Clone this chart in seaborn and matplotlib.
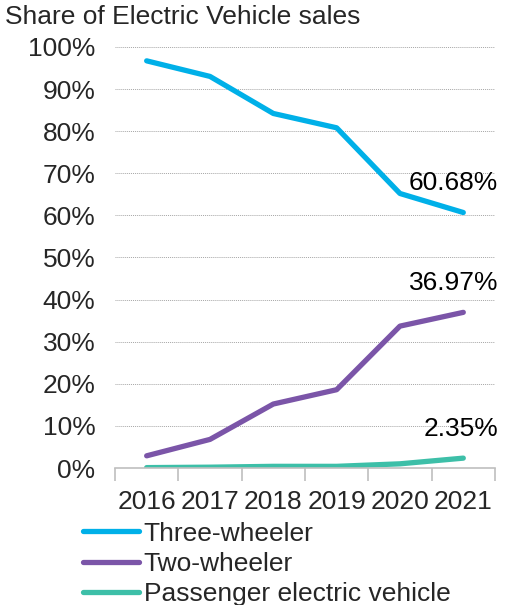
import pandas as pd
import seaborn as sns
import matplotlib.pyplot as plt
from matplotlib.ticker import FuncFormatter

years = ["2016", "2017", "2018", "2019", "2020", "2021"]
three_wheeler = [96.7, 93.0, 84.2, 80.8, 65.2, 60.68]
two_wheeler = [2.9, 6.8, 15.2, 18.6, 33.7, 36.97]
passenger = [0.1, 0.2, 0.4, 0.4, 1.0, 2.35]
series_names = ["Three-wheeler", "Two-wheeler", "Passenger electric vehicle"]
end_labels = ["60.68%", "36.97%", "2.35%"]

dane = pd.DataFrame({
    "Rok": years * 3,
    "Udział": three_wheeler + two_wheeler + passenger,
    "Typ": [series_names[0]] * 6 + [series_names[1]] * 6 + [series_names[2]] * 6,
})

sns.set_style("white")
plt.rcParams["font.family"] = ["Liberation Sans", "DejaVu Sans"]

kolory = ["#00B0E8", "#7B55A8", "#3DBFA8"]
rozmiar = 19

fig = plt.figure(figsize=(5.1, 6.05), dpi=100)
ax = fig.add_axes([0.2255, 0.2264, 0.745, 0.696])

sns.lineplot(data=dane, x="Rok", y="Udział", hue="Typ", palette=kolory,
             linewidth=3.8, ax=ax, sort=False, legend=True)

ax.set_ylim(0, 100)
ax.set_xlim(-0.5, 5.5)
ax.set_yticks(range(0, 101, 10))
ax.yaxis.set_major_formatter(FuncFormatter(lambda v, p: f"{int(v)}%"))
ax.yaxis.grid(True, linestyle=(0, (1, 1)), color="#A6A6A6", linewidth=0.7)
ax.set_axisbelow(True)

# krawedzie osi
for s in ["top", "right", "left"]:
    ax.spines[s].set_visible(False)
ax.spines["bottom"].set_color("#BFBFBF")
ax.spines["bottom"].set_linewidth(1.2)

ax.set_xticks(range(len(years)))
ax.set_xticklabels(years)
ax.tick_params(axis="x", length=0, labelsize=rozmiar, pad=16)
ax.tick_params(axis="y", length=0, labelsize=rozmiar, pad=14)
# kreski miedzy kategoriami
ax.set_xticks([i - 0.5 for i in range(len(years) + 1)], minor=True)
ax.tick_params(axis="x", which="minor", length=9, color="#BFBFBF", width=1.2,
               bottom=True)
ax.set_xlabel("")
ax.set_ylabel("")

# etykiety koncowe
wartosci = [three_wheeler[-1], two_wheeler[-1], passenger[-1]]
for txt, v in zip(end_labels, wartosci):
    ax.text(5.55, v + 6.9, txt, ha="right", va="center", fontsize=rozmiar,
            color="black", clip_on=False)

fig.text(0.01, 0.972, "Share of Electric Vehicle sales", fontsize=rozmiar,
         ha="left", va="center")

h, l = ax.get_legend_handles_labels()
ax.legend_.remove()
leg = fig.legend(h, l, loc="upper left", bbox_to_anchor=(0.163, 0.138),
                 frameon=False, fontsize=rozmiar, handlelength=2.1,
                 handletextpad=0.2, labelspacing=0.24, borderaxespad=0,
                 borderpad=0)

plt.savefig("out.png", dpi=100)
